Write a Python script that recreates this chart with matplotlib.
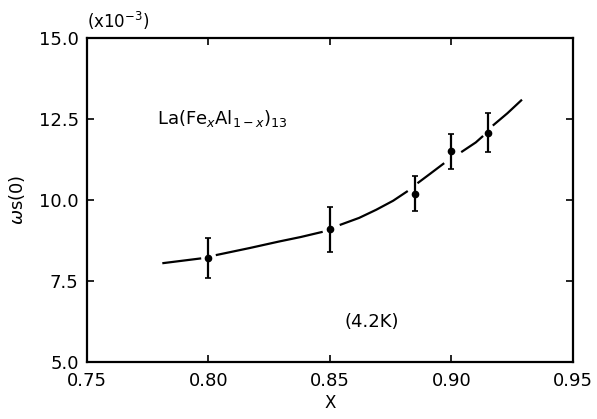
import numpy as np
import matplotlib
matplotlib.use("Agg")
import matplotlib.pyplot as plt

# measured points
x_pts = [0.800, 0.850, 0.885, 0.900, 0.915]
y_pts = [8.22, 9.10, 10.20, 11.50, 12.08]
y_err = [0.62, 0.70, 0.55, 0.55, 0.60]

# guide curve, drawn in pieces (gaps around the points)
curve_segs_x = [
    [0.781, 0.797],
    [0.803, 0.817, 0.829, 0.838, 0.847],
    [0.854, 0.862, 0.869, 0.876, 0.882],
    [0.886, 0.891, 0.897],
    [0.904, 0.910, 0.913],
    [0.917, 0.923, 0.929],
]
curve_segs_y = [
    [8.05, 8.20],
    [8.30, 8.52, 8.72, 8.86, 9.02],
    [9.23, 9.45, 9.70, 9.98, 10.28],
    [10.52, 10.80, 11.14],
    [11.48, 11.78, 11.98],
    [12.30, 12.68, 13.10],
]

xticks = [0.75, 0.80, 0.85, 0.90, 0.95]
yticks = [5.0, 7.5, 10.0, 12.5, 15.0]

plt.rcParams['font.family'] = ['DejaVu Sans']
fig = plt.figure(figsize=(5.97, 4.19), dpi=100, facecolor='white')
ax = fig.add_axes([0.1457, 0.136, 0.8141, 0.773])

for sx, sy in zip(curve_segs_x, curve_segs_y):
    ax.plot(sx, sy, color='black', lw=1.6, solid_capstyle='butt')

ax.errorbar(x_pts, y_pts, yerr=y_err, fmt='o', color='black', ms=4.5,
            elinewidth=1.6, capsize=2, capthick=1.2)

ax.set_xlim(0.75, 0.95)
ax.set_ylim(5.0, 15.0)
ax.set_xticks(xticks)
ax.set_yticks(yticks)
ax.set_xticklabels(['%.2f' % v for v in xticks])
ax.set_yticklabels(['%.1f' % v for v in yticks])
ax.tick_params(direction='in', length=5, width=1.2, top=True, right=True,
               labelsize=13)
ax.tick_params(axis='x', pad=7)
ax.tick_params(axis='y', pad=6)
for s in ax.spines.values():
    s.set_linewidth(1.6)

ax.set_xlabel('X', fontsize=12, labelpad=3)
ax.set_ylabel(r'$\omega$s(0)', fontsize=13, labelpad=8)

ax.text(0.0, 1.02, r'(x10$^{-3}$)', transform=ax.transAxes, fontsize=12,
        ha='left', va='bottom')
ax.text(0.779, 12.53, r'La(Fe$_x$Al$_{1-x}$)$_{13}$', fontsize=13,
        ha='left', va='center')
ax.text(0.8673, 6.23, '(4.2K)', fontsize=13, ha='center', va='center')

fig.savefig('out.png', dpi=100)
